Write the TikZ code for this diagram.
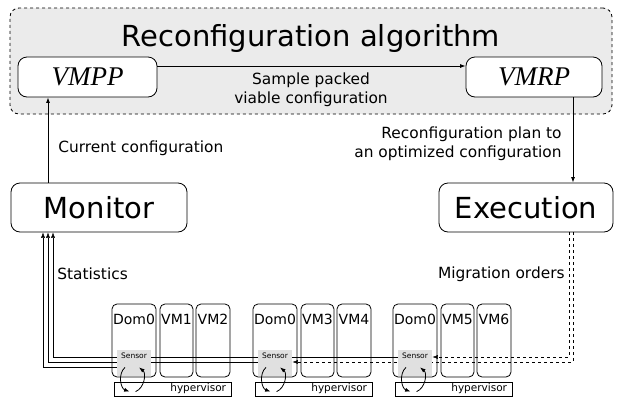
\documentclass[tikz,border=0pt]{standalone}
\usepackage{fontspec}
\setmainfont{DejaVu Sans}
\newfontfamily\algofont{Liberation Serif}
\usetikzlibrary{arrows.meta, positioning, calc, backgrounds}
\definecolor{AlgoGray}{RGB}{235, 235, 235}
\definecolor{SensorGray}{RGB}{224, 224, 224}

\tikzset{
  box/.style={draw, line width=0.8pt, rounded corners=9pt, inner sep=0pt},
  hostbox/.style={draw, line width=0.8pt, rounded corners=5pt, inner sep=0pt, minimum height=73pt},
  big/.style={font=\fontsize{29}{34}\selectfont},
  algo/.style={font=\algofont\itshape\fontsize{27}{30}\selectfont},
  lbl/.style={font=\fontsize{15.4}{19}\selectfont, inner sep=1pt},
  hosttext/.style={font=\fontsize{14}{16}\selectfont, inner sep=0pt},
  sensor/.style={fill=SensorGray, minimum width=34pt, minimum height=26pt, inner sep=0pt},
  hypbox/.style={draw, line width=0.8pt, minimum width=117pt, minimum height=14pt, inner ysep=0pt,
    inner xsep=5pt, text width=107pt, align=right, font=\fontsize{10.5}{12}\selectfont}
}

\begin{document}
\begin{tikzpicture}[x=1pt, y=-1pt, >={Latex[length=5.5pt,width=4pt]}, line width=0.8pt]
\useasboundingbox (0,0) rectangle (622,397);

% reconfiguration algorithm
\node[draw, dashed, fill=AlgoGray, rounded corners=9pt, minimum width=602pt, minimum height=106pt] (frame) at (311,61) {};
\node[big] (title) at (311,38) {Reconfiguration algorithm};
\node[box, fill=white, algo, minimum width=139pt, minimum height=40pt] (vmpp) at (87.5,77) {VMPP};
\node[box, fill=white, algo, minimum width=136pt, minimum height=40pt] (vmrp) at (534,77) {VMRP};
\draw[->] ([yshift=11pt]vmpp.east) -- ([yshift=11pt]vmrp.west);
\node[lbl, align=center] (sample) at (311,90) {Sample packed\\viable configuration};

% monitor and execution
\node[box, big, minimum width=176pt, minimum height=49pt] (mon) at (99,207.5) {Monitor};
\node[box, big, minimum width=174pt, minimum height=49pt] (exec) at (526,207.5) {Execution};
\draw[->] ([xshift=-51pt]mon.north) -- ([xshift=-51pt]mon.north |- vmpp.south);
\node[lbl, anchor=west] (curcfg) at (57,148) {Current configuration};
\draw[->] ([xshift=39pt]vmrp.south) -- ([xshift=39pt]vmrp.south |- exec.north);
\node[lbl, align=right, anchor=east] (plan) at (563,143.5) {Reconfiguration plan to\\an optimized configuration};
\node[lbl, anchor=west] (stats) at (56,274) {Statistics};
\node[lbl, anchor=east] (migr) at (566,274) {Migration orders};

% hosts
\foreach \x/\d/\va/\vb in {112/1/1/2, 253/2/3/4, 393/3/5/6} {
  \node[hostbox, minimum width=44pt] (dom\d) at (\x+22,340.5) {};
  \node[hostbox, minimum width=33pt] (vm\va) at (\x+64.5,340.5) {};
  \node[hostbox, minimum width=34pt] (vm\vb) at (\x+101,340.5) {};
  \node[hosttext] at (\x+22,319) {Dom0};
  \node[hosttext] at (\x+64.5,319) {VM\va};
  \node[hosttext] at (\x+101,319) {VM\vb};
  \node[sensor] (s\d) at (\x+22,363) {};
  \node[font=\fontsize{7.5}{9}\selectfont, inner sep=0pt] at (\x+22,356) {Sensor};
  \node[hypbox] (hyp\d) at (\x+60.5,389) {hypervisor};
  \draw[->, bend right=60] ([shift={(-9pt,9pt)}]s\d.south) to ([shift={(16pt,-10pt)}]hyp\d.north west);
  \draw[->, bend right=60] ([shift={(22pt,-10pt)}]hyp\d.north west) to ([shift={(5pt,9pt)}]s\d.south);
}

% statistics and migration orders
\begin{scope}[on background layer]
\draw[->] ([yshift=-4pt]s1.west) -| ([xshift=-56pt]mon.south);
\draw[->] ([yshift=1pt]s2.west) -| ([xshift=-51pt]mon.south);
\draw[->] ([yshift=6pt]s3.west) -| ([xshift=-46pt]mon.south);
\draw[->, dashed] ([xshift=43pt]exec.south) |- ([yshift=6pt]s3.east);
\draw[->, dashed] ([xshift=47pt]exec.south) |- ([yshift=1pt]s2.east);
\end{scope}
\end{tikzpicture}
\end{document}
